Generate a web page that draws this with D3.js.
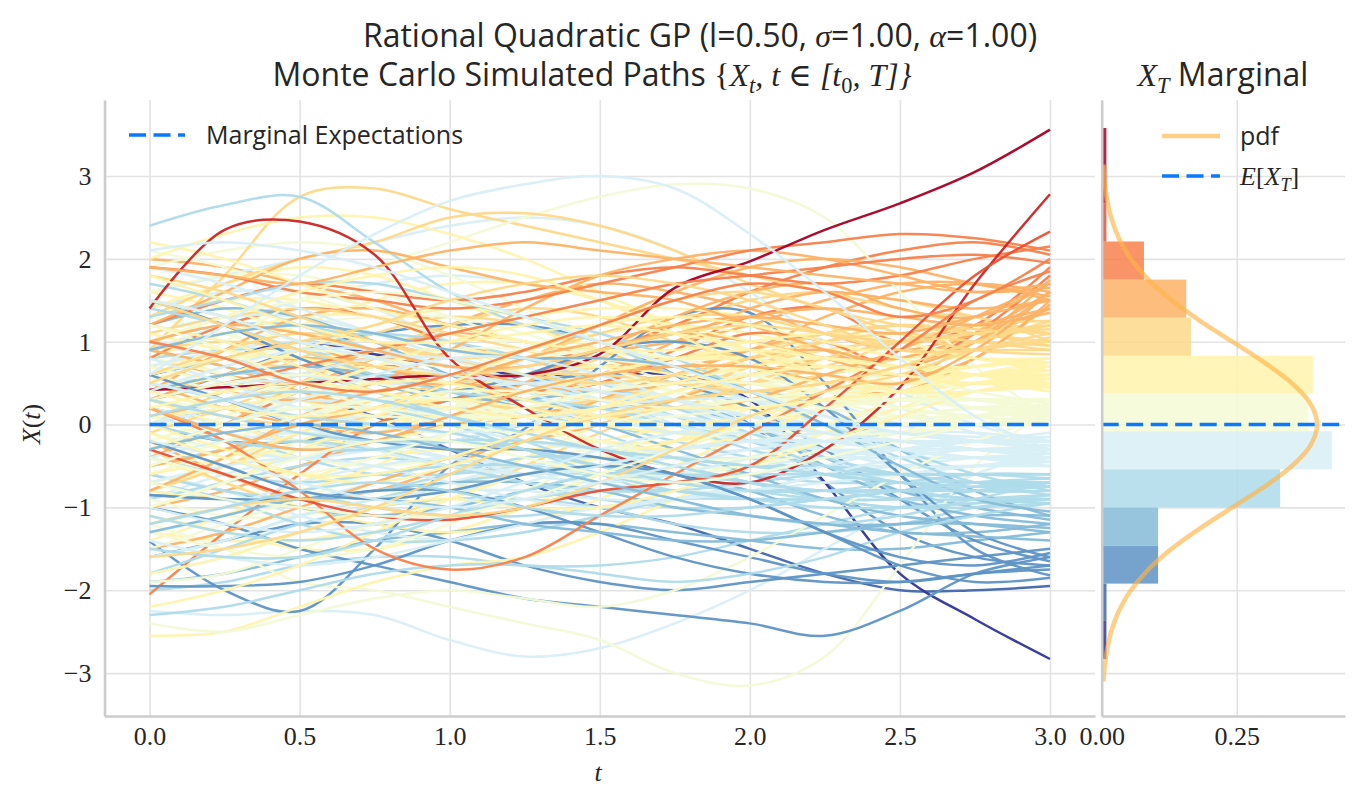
<!DOCTYPE html>
<html><head><meta charset="utf-8">
<script src="https://cdn.jsdelivr.net/npm/d3@7"></script>
<style>
body{margin:0;background:#fff;}
svg{display:block;}
</style></head>
<body>
<svg id="c" width="1363" height="806"></svg>
<script>
// ---------------- DATA ----------------
const tGrid = [0,0.25,0.5,0.75,1.0,1.25,1.5,1.75,2.0,2.25,2.5,2.75,3.0];
const xTicks = [0,0.5,1.0,1.5,2.0,2.5,3.0];
const yTicks = [-3,-2,-1,0,1,2,3];
const histXTicks = [0,0.25];
const meanValues = [0,0,0,0,0,0,0,0,0,0,0,0,0];
// histogram of X_T (edges and counts)
const histEdges = [-2.83,-2.37,-1.92,-1.46,-1.00,-0.54,-0.08,0.38,0.83,1.29,1.75,2.21,2.67,3.12,3.58];
const histCounts = [1,1,12,12,38,49,44,44,19,18,9,1,1,1];
// theoretical marginal pdf of X_T
const pdfY = [-3.1,-3.0,-2.75,-2.5,-2.25,-2.0,-1.75,-1.5,-1.25,-1.0,-0.75,-0.5,-0.25,0,0.25,0.5,0.75,1.0,1.25,1.5,1.75,2.0,2.25,2.5,2.75,3.0,3.14];
const pdfV = [0.0033,0.0044,0.0091,0.0175,0.0317,0.0540,0.0863,0.1295,0.1827,0.2420,0.3011,0.3521,0.3867,0.3989,0.3867,0.3521,0.3011,0.2420,0.1827,0.1295,0.0863,0.0540,0.0317,0.0175,0.0091,0.0044,0.0029];

// simulated paths, values at tGrid (grouped loosely by final level)
const pathsTop = [
[0.42,0.45,0.5,0.55,0.6,0.6,0.85,1.65,1.97,2.35,2.67,3.05,3.56],
[1.40,2.35,2.45,2.05,0.8,0.2,-0.3,-0.6,-0.7,-0.3,0.45,1.70,2.78],
[-0.3,-0.6,-0.9,-1.1,-1.15,-1.0,-0.8,-0.7,-0.5,0.2,1.0,1.8,2.33]
];
const pathsOrangeRed = [
[1.9,1.8,1.6,1.5,1.4,1.5,1.7,1.9,2.1,2.2,2.3,2.25,2.1],
[0.3,0.5,0.7,0.9,1.1,1.3,1.5,1.7,1.8,1.9,2.0,2.05,1.95],
[0.2,-0.2,-0.8,-1.5,-1.75,-1.6,-1.1,-0.6,-0.1,0.4,0.9,1.5,1.85],
[1.0,0.8,0.5,0.4,0.6,0.9,1.2,1.5,1.7,1.6,1.3,1.5,2.0],
[-0.3,0.0,0.4,0.7,0.6,0.4,0.5,0.9,1.3,1.4,1.0,1.2,1.9],
[0.8,1.2,1.4,1.3,1.0,0.8,0.9,1.2,1.6,1.9,2.1,2.2,2.05],
[-2.05,-1.3,-0.6,0.0,0.3,0.4,0.5,0.8,1.1,1.0,0.7,1.1,1.8],
[0.5,0.2,0.0,-0.1,0.1,0.5,0.9,1.1,1.0,0.8,0.6,1.0,1.75],
[1.2,1.5,1.7,1.6,1.5,1.6,1.8,1.9,1.8,1.7,1.8,2.0,2.15]
];
const pathsOrange = [
[1.2,1.6,2.0,2.1,1.9,1.7,1.6,1.5,1.2,0.9,0.6,0.8,1.5],
[0.1,0.3,0.6,0.8,0.7,0.5,0.4,0.5,0.8,0.9,0.7,1.0,1.6],
[-0.5,-0.3,0.0,0.2,0.5,0.8,1.0,1.2,1.3,1.2,1.1,1.3,1.5],
[1.9,1.8,1.7,1.9,2.1,2.2,2.1,2.0,1.9,1.8,1.7,1.6,1.7],
[0.8,0.6,0.5,0.8,1.2,1.5,1.7,1.6,1.4,1.1,0.9,1.1,1.4],
[-1.0,-0.8,-0.5,-0.2,0.0,0.1,0.3,0.6,0.9,1.1,1.0,1.2,1.4],
[0.4,0.9,1.3,1.4,1.2,1.0,0.8,0.7,0.9,1.3,1.6,1.7,1.6],
[-0.2,-0.6,-0.9,-0.8,-0.5,-0.1,0.3,0.6,0.7,0.5,0.4,0.8,1.45],
[1.5,1.3,1.0,0.7,0.6,0.8,1.2,1.6,1.9,2.0,1.9,1.7,1.55],
[0.6,0.4,0.3,0.5,0.9,1.4,1.8,2.0,2.1,2.0,1.8,1.6,1.65],
[-0.8,-0.4,0.1,0.4,0.5,0.4,0.3,0.2,0.3,0.6,0.9,1.3,1.7],
[1.0,1.2,1.1,0.9,0.7,0.7,0.9,1.1,1.3,1.4,1.3,1.2,1.35],
[0.2,-0.1,-0.3,-0.2,0.1,0.4,0.6,0.7,0.7,0.6,0.5,0.9,1.6],
[2.0,1.9,1.7,1.5,1.2,1.0,0.9,1.0,1.2,1.5,1.7,1.7,1.5],
[-0.4,0.0,0.5,0.9,1.1,1.0,0.8,0.6,0.4,0.3,0.5,1.0,1.4],
[0.9,0.7,0.4,0.2,0.1,0.3,0.6,1.0,1.4,1.6,1.5,1.4,1.5],
[-1.5,-1.3,-1.0,-0.7,-0.4,-0.2,0.0,0.3,0.6,0.8,0.8,1.1,1.6],
[0.3,0.6,0.8,0.7,0.5,0.6,0.9,1.3,1.6,1.7,1.4,1.3,1.7]
];
const pathsLightOrange = [
[0.9,1.8,2.75,2.85,2.6,2.4,2.2,2.0,1.8,1.6,1.4,1.2,1.1],
[1.3,1.7,2.0,2.2,2.5,2.55,2.4,2.1,1.7,1.4,1.2,1.1,1.0],
[-0.5,-0.3,0.0,0.3,0.5,0.6,0.6,0.5,0.4,0.5,0.7,0.9,1.0],
[0.6,0.9,1.1,1.0,0.8,0.6,0.5,0.6,0.8,1.0,1.1,1.0,0.9],
[1.5,1.2,0.9,0.7,0.6,0.7,0.9,1.1,1.2,1.1,1.0,1.1,1.2],
[-1.2,-1.0,-0.9,-1.0,-1.1,-1.0,-0.7,-0.3,0.1,0.4,0.6,0.9,1.1],
[0.0,0.4,0.8,1.1,1.3,1.2,0.9,0.6,0.5,0.6,0.8,1.0,1.2],
[0.7,0.5,0.3,0.2,0.3,0.5,0.8,1.2,1.5,1.6,1.5,1.3,1.1],
[-0.3,-0.7,-1.0,-1.1,-0.9,-0.5,-0.1,0.3,0.7,0.9,1.0,1.0,0.95],
[1.1,1.3,1.4,1.3,1.1,0.9,0.7,0.5,0.5,0.7,1.0,1.2,1.25],
[0.3,0.1,0.0,0.1,0.4,0.8,1.1,1.3,1.3,1.1,0.9,0.9,0.9],
[-0.8,-0.5,-0.1,0.2,0.3,0.2,0.1,0.2,0.5,0.8,1.0,1.1,1.15],
[1.8,1.6,1.3,1.0,0.8,0.9,1.2,1.5,1.6,1.4,1.1,0.9,0.85],
[0.5,0.8,1.0,1.2,1.5,1.7,1.8,1.7,1.5,1.2,0.9,0.9,1.05],
[-1.6,-1.5,-1.3,-1.0,-0.6,-0.2,0.1,0.3,0.4,0.5,0.7,1.0,1.2],
[0.2,0.0,-0.2,-0.1,0.2,0.5,0.7,0.8,0.9,1.1,1.3,1.3,1.0],
[1.0,0.8,0.7,0.9,1.2,1.4,1.3,1.0,0.8,0.7,0.8,1.0,1.25],
[-0.1,0.2,0.5,0.6,0.5,0.3,0.2,0.4,0.7,1.0,1.2,1.1,0.95],
[0.9,1.0,0.9,0.6,0.3,0.2,0.3,0.5,0.8,1.1,1.2,1.15,1.1]
];
const pathsPaleYellow = [
[-2.55,-2.5,-2.2,-1.9,-1.7,-1.6,-1.3,-0.9,-0.5,-0.1,0.2,0.5,0.6],
[2.0,2.3,2.5,2.5,2.3,2.0,1.6,1.2,0.9,0.7,0.6,0.6,0.7],
[0.4,0.6,0.9,1.2,1.4,1.3,1.0,0.7,0.5,0.4,0.5,0.6,0.55],
[-0.6,-0.4,-0.1,0.2,0.3,0.2,0.0,-0.1,0.0,0.3,0.5,0.6,0.5],
[1.2,1.0,0.7,0.4,0.3,0.4,0.6,0.8,0.9,0.8,0.7,0.7,0.8],
[0.0,-0.3,-0.6,-0.7,-0.5,-0.2,0.2,0.5,0.7,0.8,0.7,0.6,0.45],
[-1.3,-1.4,-1.4,-1.2,-0.8,-0.4,0.0,0.3,0.4,0.3,0.3,0.4,0.6],
[0.8,1.1,1.3,1.3,1.0,0.6,0.2,-0.1,-0.2,0.0,0.3,0.6,0.75],
[1.6,1.4,1.1,0.9,0.8,0.9,1.1,1.2,1.1,0.9,0.7,0.6,0.65],
[-0.2,0.1,0.5,0.8,0.9,0.8,0.5,0.3,0.2,0.3,0.5,0.7,0.8],
[0.5,0.3,0.0,-0.3,-0.5,-0.6,-0.5,-0.3,0.0,0.3,0.5,0.5,0.4],
[-1.0,-0.7,-0.3,0.0,0.1,0.0,-0.2,-0.3,-0.1,0.2,0.5,0.6,0.7],
[1.0,1.3,1.6,1.8,1.9,1.8,1.5,1.1,0.7,0.5,0.4,0.5,0.6],
[-1.8,-1.6,-1.3,-1.0,-0.9,-1.0,-1.0,-0.8,-0.5,-0.2,0.1,0.4,0.5],
[0.2,0.4,0.5,0.4,0.2,0.1,0.2,0.4,0.6,0.7,0.6,0.5,0.6],
[0.9,0.6,0.3,0.1,0.0,0.1,0.3,0.6,0.9,1.1,1.0,0.8,0.7],
[-0.4,-0.7,-1.0,-1.2,-1.3,-1.2,-0.9,-0.5,-0.1,0.2,0.4,0.5,0.55],
[1.4,1.7,1.9,1.8,1.5,1.2,0.9,0.8,0.8,0.9,0.9,0.8,0.75],
[-0.8,-0.9,-0.8,-0.5,-0.1,0.3,0.6,0.8,0.8,0.6,0.4,0.4,0.5],
[0.6,0.8,0.8,0.6,0.3,0.0,-0.2,-0.2,0.0,0.2,0.4,0.5,0.45],
[-2.2,-2.0,-1.7,-1.3,-0.9,-0.6,-0.4,-0.2,0.0,0.2,0.4,0.6,0.7],
[0.1,0.2,0.4,0.7,1.0,1.2,1.3,1.2,1.0,0.8,0.7,0.7,0.8],
[1.8,1.5,1.2,1.0,1.0,1.1,1.2,1.1,0.9,0.6,0.4,0.4,0.5],
[-0.1,-0.4,-0.6,-0.6,-0.4,-0.1,0.1,0.2,0.2,0.3,0.4,0.6,0.65],
[0.7,0.9,1.2,1.5,1.7,1.7,1.5,1.2,0.9,0.7,0.6,0.6,0.6],
[-1.4,-1.1,-0.7,-0.4,-0.3,-0.3,-0.2,0.0,0.3,0.6,0.8,0.8,0.7],
[0.3,0.0,-0.2,-0.2,0.0,0.3,0.5,0.5,0.4,0.3,0.3,0.4,0.45],
[1.1,0.9,0.8,0.9,1.1,1.3,1.4,1.4,1.3,1.1,0.9,0.8,0.8],
[-0.7,-0.5,-0.2,0.1,0.4,0.6,0.7,0.6,0.4,0.3,0.4,0.5,0.55],
[2.2,2.0,1.7,1.4,1.2,1.0,0.9,0.9,1.0,1.1,1.0,0.8,0.65],
[-0.3,0.0,0.3,0.5,0.5,0.3,0.1,0.0,0.1,0.3,0.5,0.7,0.75],
[0.4,0.2,0.1,0.2,0.5,0.9,1.2,1.3,1.2,1.0,0.8,0.6,0.5],
[-1.1,-1.3,-1.5,-1.5,-1.3,-1.0,-0.6,-0.2,0.2,0.5,0.6,0.6,0.6],
[1.3,1.5,1.5,1.3,1.0,0.8,0.7,0.8,1.0,1.1,1.0,0.8,0.7],
[0.0,0.3,0.6,0.7,0.6,0.5,0.5,0.6,0.7,0.6,0.5,0.5,0.5]
];
const pathsPaleGreen = [
[-1.2,-1.5,-1.9,-2.0,-2.2,-2.4,-2.6,-3.0,-3.15,-2.8,-1.7,-0.5,0.2],
[0.5,1.0,1.5,1.9,2.2,2.5,2.75,2.9,2.85,2.5,1.6,0.7,0.1],
[-2.4,-2.5,-2.3,-2.1,-2.0,-2.1,-2.2,-2.0,-1.6,-1.1,-0.6,-0.2,0.1],
[1.5,1.3,1.0,0.8,0.7,0.8,0.9,0.8,0.6,0.4,0.2,0.1,0.2],
[0.3,0.5,0.6,0.5,0.3,0.1,0.0,0.1,0.2,0.3,0.3,0.2,0.1],
[-0.5,-0.2,0.1,0.3,0.3,0.1,-0.2,-0.4,-0.4,-0.2,0.0,0.1,0.2],
[0.9,1.2,1.4,1.4,1.2,0.9,0.6,0.4,0.3,0.3,0.3,0.2,0.0],
[-0.9,-1.1,-1.1,-0.9,-0.6,-0.4,-0.3,-0.3,-0.2,0.0,0.2,0.3,0.3],
[0.1,-0.2,-0.4,-0.5,-0.4,-0.2,0.1,0.4,0.6,0.6,0.4,0.2,0.05],
[1.9,2.1,2.2,2.1,1.8,1.4,1.0,0.7,0.5,0.4,0.3,0.2,0.15],
[-1.5,-1.2,-0.9,-0.6,-0.5,-0.5,-0.6,-0.6,-0.5,-0.3,-0.1,0.1,0.25],
[0.6,0.4,0.2,0.1,0.1,0.2,0.4,0.6,0.7,0.6,0.4,0.2,0.1],
[-0.2,0.1,0.4,0.7,0.9,0.9,0.7,0.4,0.1,-0.1,-0.1,0.0,0.1],
[1.2,0.9,0.5,0.2,0.0,-0.1,0.0,0.2,0.3,0.3,0.2,0.1,0.0],
[-0.7,-0.9,-1.0,-1.1,-1.1,-0.9,-0.6,-0.3,0.0,0.2,0.3,0.3,0.3],
[0.4,0.7,1.0,1.1,0.9,0.6,0.3,0.1,0.0,0.0,0.1,0.2,0.2],
[-0.1,-0.3,-0.3,-0.1,0.2,0.5,0.6,0.5,0.3,0.1,0.0,0.0,0.1],
[2.1,1.9,1.6,1.3,1.1,1.0,1.0,1.0,0.9,0.7,0.5,0.3,0.2],
[-1.9,-1.8,-1.5,-1.2,-0.9,-0.6,-0.4,-0.3,-0.2,-0.1,0.0,0.1,0.2],
[0.7,0.5,0.4,0.4,0.6,0.8,0.9,0.8,0.6,0.4,0.2,0.1,0.0],
[0.0,0.3,0.5,0.5,0.3,0.0,-0.3,-0.5,-0.5,-0.3,-0.1,0.1,0.25],
[1.0,1.3,1.5,1.6,1.5,1.3,1.0,0.7,0.4,0.2,0.1,0.1,0.15],
[-0.4,-0.6,-0.6,-0.4,-0.1,0.2,0.4,0.5,0.5,0.4,0.3,0.3,0.3],
[-1.0,-0.7,-0.4,-0.2,-0.2,-0.4,-0.6,-0.7,-0.6,-0.4,-0.2,0.0,0.15],
[0.8,0.6,0.3,0.0,-0.2,-0.2,0.0,0.3,0.5,0.5,0.4,0.3,0.3],
[0.2,0.0,-0.1,0.0,0.2,0.4,0.5,0.4,0.2,0.0,-0.1,0.0,0.05],
[1.6,1.8,1.8,1.6,1.3,1.0,0.8,0.7,0.6,0.5,0.4,0.3,0.3],
[-0.6,-0.3,0.0,0.2,0.2,0.0,-0.2,-0.2,0.0,0.2,0.3,0.3,0.2],
[0.5,0.8,0.9,0.8,0.5,0.2,0.0,-0.1,-0.1,0.0,0.1,0.2,0.2],
[-1.3,-1.5,-1.6,-1.5,-1.2,-0.8,-0.4,-0.1,0.0,0.0,0.0,0.1,0.15],
[0.3,0.2,0.2,0.3,0.4,0.4,0.3,0.2,0.3,0.4,0.4,0.3,0.2],
[-0.3,0.0,0.2,0.2,0.1,0.1,0.2,0.4,0.6,0.7,0.6,0.4,0.25],
[1.3,1.1,0.8,0.6,0.5,0.5,0.6,0.6,0.5,0.3,0.1,0.0,0.0],
[-0.8,-0.5,-0.3,-0.3,-0.5,-0.7,-0.8,-0.7,-0.4,-0.1,0.1,0.2,0.3],
[0.6,0.9,1.2,1.3,1.3,1.1,0.8,0.5,0.3,0.1,0.0,0.0,0.1]
];
const pathsPaleBlue = [
[0.6,1.2,1.8,2.3,2.7,2.9,3.0,2.85,2.3,1.6,0.8,0.1,-0.3],
[-2.25,-2.3,-2.25,-2.3,-2.6,-2.8,-2.7,-2.4,-2.0,-1.5,-1.0,-0.6,-0.3],
[1.6,1.8,2.0,2.2,2.4,2.5,2.4,2.1,1.6,1.0,0.4,0.0,-0.2],
[0.2,0.0,-0.2,-0.3,-0.2,0.0,0.1,0.0,-0.2,-0.3,-0.3,-0.3,-0.25],
[-0.5,-0.3,0.0,0.2,0.1,-0.1,-0.3,-0.4,-0.4,-0.4,-0.4,-0.4,-0.4],
[1.0,0.8,0.6,0.5,0.5,0.6,0.6,0.5,0.3,0.0,-0.2,-0.3,-0.35],
[-1.2,-1.0,-0.7,-0.5,-0.4,-0.5,-0.7,-0.8,-0.8,-0.6,-0.4,-0.3,-0.3],
[0.4,0.7,0.9,0.9,0.7,0.4,0.1,-0.1,-0.1,0.0,-0.1,-0.2,-0.2],
[-0.2,-0.5,-0.8,-0.9,-0.8,-0.6,-0.3,-0.1,0.0,-0.1,-0.3,-0.4,-0.45],
[1.3,1.1,0.8,0.5,0.3,0.2,0.3,0.5,0.6,0.5,0.2,-0.1,-0.3],
[-0.8,-0.9,-0.9,-0.7,-0.4,-0.1,0.1,0.1,-0.1,-0.3,-0.5,-0.5,-0.4],
[0.7,0.9,1.0,0.9,0.7,0.5,0.3,0.2,0.1,0.0,-0.1,-0.15,-0.15],
[-1.6,-1.4,-1.1,-0.9,-0.8,-0.8,-0.9,-0.9,-0.8,-0.6,-0.5,-0.4,-0.35],
[0.0,0.2,0.3,0.2,0.0,-0.3,-0.5,-0.6,-0.5,-0.4,-0.3,-0.3,-0.3],
[1.9,1.7,1.4,1.1,0.8,0.5,0.3,0.1,0.0,-0.1,-0.2,-0.3,-0.4],
[-0.4,-0.2,-0.1,-0.2,-0.4,-0.6,-0.7,-0.6,-0.4,-0.2,-0.1,-0.1,-0.2],
[0.5,0.3,0.0,-0.3,-0.5,-0.6,-0.5,-0.3,-0.2,-0.2,-0.3,-0.4,-0.5],
[-1.0,-1.2,-1.3,-1.2,-1.0,-0.7,-0.5,-0.3,-0.2,-0.2,-0.2,-0.3,-0.3],
[0.9,1.2,1.5,1.7,1.8,1.7,1.5,1.1,0.7,0.3,0.0,-0.2,-0.25],
[-0.1,-0.3,-0.4,-0.3,-0.1,0.2,0.3,0.3,0.1,-0.1,-0.3,-0.4,-0.35],
[1.4,1.6,1.6,1.4,1.0,0.7,0.4,0.2,0.0,-0.1,-0.2,-0.2,-0.15],
[-0.6,-0.8,-1.1,-1.3,-1.4,-1.3,-1.1,-0.8,-0.6,-0.5,-0.5,-0.5,-0.5],
[0.3,0.5,0.5,0.3,0.0,-0.2,-0.3,-0.3,-0.2,-0.1,-0.1,-0.2,-0.3],
[-1.4,-1.6,-1.7,-1.6,-1.4,-1.2,-1.0,-0.9,-0.8,-0.7,-0.6,-0.5,-0.45],
[0.8,0.5,0.2,0.0,-0.1,0.0,0.2,0.3,0.3,0.1,-0.1,-0.2,-0.2],
[-0.3,0.0,0.3,0.6,0.8,0.8,0.6,0.3,0.0,-0.2,-0.3,-0.3,-0.3],
[2.1,2.2,2.1,1.9,1.6,1.3,1.0,0.7,0.4,0.1,-0.1,-0.2,-0.2],
[-0.9,-0.6,-0.4,-0.3,-0.4,-0.5,-0.5,-0.4,-0.3,-0.3,-0.4,-0.4,-0.4],
[0.1,-0.1,-0.2,-0.1,0.1,0.3,0.4,0.3,0.1,-0.1,-0.2,-0.3,-0.35],
[1.1,1.3,1.3,1.1,0.8,0.5,0.2,0.0,-0.2,-0.3,-0.3,-0.2,-0.1],
[-1.8,-1.6,-1.3,-1.0,-0.7,-0.5,-0.4,-0.4,-0.5,-0.6,-0.6,-0.5,-0.4],
[0.6,0.4,0.3,0.3,0.4,0.5,0.5,0.3,0.0,-0.3,-0.5,-0.5,-0.45],
[-0.7,-0.5,-0.4,-0.5,-0.7,-0.9,-1.0,-0.9,-0.7,-0.5,-0.3,-0.2,-0.2],
[0.0,0.3,0.6,0.8,0.8,0.6,0.3,0.0,-0.2,-0.3,-0.3,-0.3,-0.3],
[1.5,1.3,1.0,0.8,0.6,0.5,0.4,0.3,0.1,-0.1,-0.2,-0.3,-0.35],
[-0.2,-0.4,-0.7,-0.9,-1.0,-0.9,-0.7,-0.5,-0.3,-0.2,-0.2,-0.3,-0.4],
[0.4,0.2,0.1,0.1,0.2,0.2,0.1,-0.1,-0.2,-0.2,-0.2,-0.2,-0.2],
[-1.3,-1.1,-0.8,-0.6,-0.5,-0.6,-0.7,-0.6,-0.4,-0.2,-0.2,-0.3,-0.3]
];
const pathsLightBlue = [
[2.4,2.65,2.75,2.2,1.6,1.2,1.0,0.6,0.3,0.0,-0.3,-0.6,-0.8],
[1.3,1.5,1.7,1.7,1.5,1.3,1.1,0.8,0.4,0.0,-0.4,-0.7,-0.85],
[-0.4,-0.6,-0.7,-0.6,-0.5,-0.5,-0.6,-0.8,-0.9,-0.9,-0.8,-0.7,-0.7],
[0.3,0.1,-0.1,-0.2,-0.2,-0.3,-0.5,-0.7,-0.8,-0.8,-0.8,-0.9,-0.9],
[-1.2,-1.0,-0.8,-0.7,-0.8,-1.0,-1.1,-1.1,-1.0,-0.9,-0.8,-0.7,-0.65],
[0.8,0.9,0.9,0.7,0.4,0.1,-0.2,-0.4,-0.5,-0.6,-0.7,-0.8,-0.8],
[-2.0,-1.9,-1.7,-1.6,-1.6,-1.7,-1.7,-1.6,-1.4,-1.2,-1.0,-0.9,-0.85],
[0.0,0.3,0.5,0.6,0.5,0.2,-0.1,-0.4,-0.6,-0.7,-0.7,-0.7,-0.75],
[-0.7,-0.9,-1.2,-1.4,-1.4,-1.3,-1.1,-0.9,-0.8,-0.8,-0.9,-0.9,-0.9],
[1.7,1.5,1.2,0.9,0.7,0.5,0.3,0.0,-0.3,-0.5,-0.6,-0.6,-0.6],
[-0.3,0.0,0.2,0.2,0.0,-0.3,-0.6,-0.9,-1.1,-1.2,-1.1,-0.9,-0.7],
[0.5,0.3,0.1,0.0,-0.1,-0.3,-0.5,-0.6,-0.6,-0.6,-0.6,-0.6,-0.6],
[-1.5,-1.6,-1.6,-1.4,-1.1,-0.8,-0.6,-0.6,-0.7,-0.8,-0.8,-0.8,-0.75],
[1.0,1.2,1.2,1.0,0.8,0.6,0.4,0.1,-0.2,-0.5,-0.8,-0.9,-0.95],
[-0.9,-0.7,-0.5,-0.4,-0.5,-0.7,-0.9,-1.0,-1.0,-0.9,-0.8,-0.7,-0.7],
[0.2,-0.1,-0.4,-0.6,-0.6,-0.5,-0.4,-0.5,-0.7,-0.9,-1.0,-0.95,-0.85],
[-1.8,-1.5,-1.2,-1.0,-0.9,-0.9,-1.0,-1.2,-1.3,-1.3,-1.2,-1.0,-0.9],
[0.6,0.8,1.0,1.1,1.0,0.8,0.5,0.2,-0.1,-0.4,-0.6,-0.7,-0.7],
[-0.5,-0.3,-0.2,-0.3,-0.5,-0.7,-0.8,-0.8,-0.7,-0.6,-0.6,-0.6,-0.65],
[1.4,1.2,0.9,0.6,0.4,0.3,0.2,0.0,-0.2,-0.5,-0.7,-0.8,-0.8],
[-1.1,-1.3,-1.4,-1.3,-1.1,-0.9,-0.8,-0.8,-0.9,-1.0,-1.0,-0.95,-0.9],
[0.1,0.3,0.4,0.3,0.1,-0.1,-0.3,-0.4,-0.5,-0.6,-0.7,-0.75,-0.75],
[-0.2,-0.5,-0.8,-1.0,-1.1,-1.1,-1.0,-0.9,-0.9,-0.9,-0.9,-0.8,-0.7],
[0.9,0.7,0.5,0.3,0.2,0.1,0.0,-0.2,-0.4,-0.6,-0.8,-0.9,-0.95],
[-1.6,-1.4,-1.1,-0.9,-0.7,-0.6,-0.6,-0.7,-0.8,-0.9,-0.9,-0.8,-0.7],
[0.4,0.6,0.6,0.4,0.1,-0.2,-0.5,-0.7,-0.8,-0.8,-0.7,-0.6,-0.6],
[-0.6,-0.8,-0.9,-0.8,-0.6,-0.4,-0.4,-0.5,-0.7,-0.9,-1.0,-1.0,-0.95],
[1.2,1.0,0.7,0.4,0.1,-0.1,-0.3,-0.4,-0.5,-0.5,-0.6,-0.7,-0.75],
[-2.3,-2.2,-2.0,-1.8,-1.7,-1.7,-1.8,-1.9,-1.8,-1.6,-1.3,-1.1,-0.95],
[0.0,-0.2,-0.3,-0.3,-0.2,-0.2,-0.3,-0.5,-0.7,-0.8,-0.8,-0.75,-0.7]
];
const pathsMidBlue = [
[1.5,1.2,0.8,0.5,0.3,0.3,0.4,0.3,0.0,-0.5,-0.9,-1.1,-1.2],
[-0.85,-0.9,-0.9,-0.8,-0.7,-0.7,-0.8,-1.0,-1.1,-1.2,-1.2,-1.1,-1.1],
[0.4,0.6,0.7,0.6,0.4,0.2,0.0,-0.3,-0.6,-0.9,-1.1,-1.2,-1.3],
[-1.3,-1.1,-0.9,-0.9,-1.0,-1.2,-1.3,-1.4,-1.4,-1.3,-1.2,-1.2,-1.25],
[0.9,1.1,1.2,1.1,0.9,0.8,0.8,0.7,0.4,0.0,-0.5,-0.9,-1.05],
[-0.3,-0.1,0.0,-0.1,-0.3,-0.5,-0.7,-0.9,-1.1,-1.2,-1.3,-1.35,-1.4],
[-1.9,-1.8,-1.6,-1.4,-1.3,-1.2,-1.2,-1.3,-1.4,-1.5,-1.5,-1.4,-1.3],
[0.2,0.0,-0.2,-0.3,-0.2,0.0,0.2,0.2,0.0,-0.4,-0.8,-1.0,-1.15],
[-0.6,-0.8,-1.0,-1.1,-1.0,-0.8,-0.6,-0.6,-0.8,-1.1,-1.3,-1.3,-1.2],
[1.2,1.4,1.3,1.0,0.6,0.3,0.2,0.3,0.4,0.2,-0.3,-0.8,-1.1]
];
const pathsBlue = [
[-1.41,-2.0,-2.25,-1.5,-0.5,-0.05,0.7,1.3,1.35,0.5,-0.6,-1.5,-1.82],
[-1.0,-1.2,-1.5,-1.7,-1.9,-2.1,-2.2,-2.3,-2.4,-2.55,-2.25,-1.8,-1.6],
[-1.95,-1.95,-1.9,-1.7,-1.4,-1.2,-1.2,-1.4,-1.6,-1.8,-1.9,-1.8,-1.7],
[1.5,1.2,0.8,0.5,0.4,0.6,0.9,1.0,0.8,0.2,-0.6,-1.3,-1.6],
[-0.85,-0.9,-0.9,-0.8,-0.8,-1.0,-1.3,-1.6,-1.8,-1.9,-1.9,-1.8,-1.75],
[0.6,0.3,0.0,-0.2,-0.3,-0.3,-0.4,-0.6,-0.9,-1.3,-1.6,-1.7,-1.55],
[-0.2,-0.5,-0.8,-0.9,-0.8,-0.6,-0.5,-0.6,-0.9,-1.3,-1.7,-1.9,-1.85],
[0.3,0.6,0.9,1.1,1.2,1.2,1.0,0.6,0.0,-0.7,-1.3,-1.6,-1.7],
[-1.6,-1.4,-1.2,-1.2,-1.4,-1.7,-1.9,-2.0,-1.9,-1.8,-1.7,-1.6,-1.5],
[0.0,-0.2,-0.2,0.0,0.3,0.5,0.6,0.5,0.2,-0.3,-0.9,-1.4,-1.65]
];
const pathsDeepBlue = [
[0.0,0.2,0.3,0.1,-0.3,-0.7,-1.0,-1.2,-1.5,-1.8,-2.0,-2.0,-1.95],
[0.6,0.8,1.0,0.85,0.7,0.6,0.6,0.6,0.3,-0.7,-1.8,-2.35,-2.83]
];

// labels
const legendMain = "Marginal Expectations";

// ---------------- DRAW ----------------
const svg = d3.select("#c");
const x = d3.scaleLinear([-0.15, 3.15], [104.5, 1095]);
const y = d3.scaleLinear([-3.518, 3.918], [716, 100]);
const xh = d3.scaleLinear([0, 0.4505], [1101.7, 1345]);

const rdylbu = ['#a50026','#d73027','#f46d43','#fdae61','#fee090','#ffffbf','#e0f3f8','#abd9e9','#74add1','#4575b4','#313695'].reverse();
const cmap = d3.scaleLinear().domain(d3.range(11).map(i => i/10)).range(rdylbu).interpolate(d3.interpolateRgb).clamp(true);
const nBins = histCounts.length;
const binColor = i => cmap(i/(nBins-1));
const binOf = v => {
  for (let i = 0; i < nBins; i++) if (v <= histEdges[i+1]) return i;
  return nBins-1;
};

const gridColor = "#e3e3e3", spineColor = "#cccccc";
const serif = "'Liberation Serif','DejaVu Serif',serif";
const sans = "'Open Sans',Lato,sans-serif";

// main grid
const gx = svg.append("g").attr("transform","translate(0,716)")
  .call(d3.axisBottom(x).tickValues(xTicks).tickSize(-616).tickFormat(""));
gx.select(".domain").remove();
gx.selectAll("line").attr("stroke", gridColor).attr("stroke-width", 1.6);
const gy = svg.append("g").attr("transform","translate(104.5,0)")
  .call(d3.axisLeft(y).tickValues(yTicks).tickSize(-990.5).tickFormat(""));
gy.select(".domain").remove();
gy.selectAll("line").attr("stroke", gridColor).attr("stroke-width", 1.6);
// hist grid
const hgx = svg.append("g").attr("transform","translate(0,716)")
  .call(d3.axisBottom(xh).tickValues(histXTicks).tickSize(-616).tickFormat(""));
hgx.select(".domain").remove();
hgx.selectAll("line").attr("stroke", gridColor).attr("stroke-width", 1.6);
const hgy = svg.append("g").attr("transform","translate(1101.7,0)")
  .call(d3.axisLeft(y).tickValues(yTicks).tickSize(-243.3).tickFormat(""));
hgy.select(".domain").remove();
hgy.selectAll("line").attr("stroke", gridColor).attr("stroke-width", 1.6);

// paths
const groups = [pathsDeepBlue, pathsBlue, pathsMidBlue, pathsLightBlue, pathsPaleBlue, pathsPaleGreen, pathsPaleYellow, pathsLightOrange, pathsOrange, pathsOrangeRed, pathsTop];
const all = [].concat(...groups);
const N = all.length;
const order = d3.range(N).map(k => all[(k*61) % N]);
const line = d3.line().x((d,i) => x(tGrid[i])).y(d => y(d)).curve(d3.curveCatmullRom.alpha(0.5));
svg.append("clipPath").attr("id","mainclip").append("rect")
  .attr("x",104.5).attr("y",100).attr("width",990.5).attr("height",616);
svg.append("g").attr("clip-path","url(#mainclip)")
  .selectAll("path").data(order).join("path")
  .attr("d", line)
  .attr("fill","none")
  .attr("stroke", d => binColor(binOf(d[d.length-1])))
  .attr("stroke-opacity", 0.95)
  .attr("stroke-width", 2.5);

// marginal expectation line
const blue = "#0a78ff";
svg.append("path").datum(meanValues)
  .attr("d", d3.line().x((d,i)=>x(tGrid[i])).y(d=>y(d)))
  .attr("fill","none").attr("stroke",blue).attr("stroke-width",3.6)
  .attr("stroke-dasharray","17,7.5");

// histogram bars
const total = d3.sum(histCounts);
const bins = histCounts.map((c,i) => ({i, lo: histEdges[i], hi: histEdges[i+1], dens: c/(total*(histEdges[i+1]-histEdges[i]))}));
svg.append("g").selectAll("rect").data(bins).join("rect")
  .attr("x", xh(0))
  .attr("y", d => y(d.hi))
  .attr("width", d => xh(d.dens) - xh(0))
  .attr("height", d => y(d.lo) - y(d.hi))
  .attr("fill", d => binColor(d.i))
  .attr("fill-opacity", 0.85);
// pdf
const pdfColor = "#ffb347";
svg.append("path").datum(pdfY.map((v,i)=>[pdfV[i], v]))
  .attr("d", d3.line().x(d=>xh(d[0])).y(d=>y(d[1])).curve(d3.curveCatmullRom.alpha(0.5)))
  .attr("fill","none").attr("stroke",pdfColor).attr("stroke-opacity",0.65).attr("stroke-width",4.5);
// E[X_T]
svg.append("line").attr("x1",xh(0)).attr("x2",1345).attr("y1",y(meanValues[meanValues.length-1])).attr("y2",y(meanValues[meanValues.length-1]))
  .attr("stroke",blue).attr("stroke-width",3.6).attr("stroke-dasharray","17,7.5");

// axes (spines + tick labels)
function styleAxis(g){
  g.select(".domain").attr("stroke",spineColor).attr("stroke-width",2.6);
  g.selectAll(".tick line").remove();
  g.selectAll(".tick text").attr("font-family",serif).attr("font-size",26).attr("fill","#262626");
}
const ax = svg.append("g").attr("transform","translate(0,716)")
  .call(d3.axisBottom(x).tickValues(xTicks).tickFormat(d3.format(".1f")).tickSizeOuter(0).tickSize(0).tickPadding(11));
styleAxis(ax);
ax.selectAll(".tick text").attr("dy","0.71em");
const ay = svg.append("g").attr("transform","translate(104.5,0)")
  .call(d3.axisLeft(y).tickValues(yTicks).tickFormat(d3.format("d")).tickSizeOuter(0).tickSize(0).tickPadding(13));
styleAxis(ay);
const ahx = svg.append("g").attr("transform","translate(0,716)")
  .call(d3.axisBottom(xh).tickValues(histXTicks).tickFormat(d3.format(".2f")).tickSizeOuter(0).tickSize(0).tickPadding(11));
styleAxis(ahx);
const ahy = svg.append("g").attr("transform","translate(1101.7,0)")
  .call(d3.axisLeft(y).tickValues(yTicks).tickFormat("").tickSizeOuter(0).tickSize(0));
styleAxis(ahy);

// text helpers
function rich(sel, parts, size){
  parts.forEach(p => {
    const t = sel.append("tspan").text(p.t);
    if (p.math) t.attr("font-family", serif).attr("font-style", p.up ? "normal" : "italic");
    if (p.sub) t.attr("font-size", size*0.7).attr("dy", size*0.22);
    if (p.unsub) t.attr("dy", -size*0.22);
  });
}
// titles
const tfs = 32;
const t1 = svg.append("text").attr("x",700).attr("y",47).attr("text-anchor","middle")
  .attr("font-family",sans).attr("font-size",tfs).attr("fill","#262626");
rich(t1, [{t:"Rational Quadratic GP (l=0.50, "},{t:"σ",math:true},{t:"=1.00, "},{t:"α",math:true},{t:"=1.00)"}], tfs);
const t2 = svg.append("text").attr("x",592).attr("y",86).attr("text-anchor","middle")
  .attr("font-family",sans).attr("font-size",tfs).attr("fill","#262626");
rich(t2, [{t:"Monte Carlo Simulated Paths "},{t:"{",math:true,up:true},{t:"X",math:true},{t:"t",math:true,sub:true},{t:", t ∈ [t",math:true,unsub:true},{t:"0",math:true,up:true,sub:true},{t:", T]}",math:true,unsub:true}], tfs);
const t3 = svg.append("text").attr("x",1223).attr("y",86).attr("text-anchor","middle")
  .attr("font-family",sans).attr("font-size",tfs).attr("fill","#262626");
rich(t3, [{t:"X",math:true},{t:"T",math:true,sub:true},{t:" Marginal",unsub:true}], tfs);

// axis labels
svg.append("text").attr("x",598).attr("y",781).attr("text-anchor","middle")
  .attr("font-family",serif).attr("font-style","italic").attr("font-size",26).attr("fill","#262626").text("t");
const yl = svg.append("text").attr("transform","translate(40,424) rotate(-90)").attr("text-anchor","middle")
  .attr("font-family",serif).attr("font-size",26).attr("fill","#262626");
rich(yl, [{t:"X",math:true},{t:"(",math:true,up:true},{t:"t",math:true},{t:")",math:true,up:true}], 26);

// legends
const lfs = 25;
svg.append("line").attr("x1",129).attr("x2",185).attr("y1",135).attr("y2",135)
  .attr("stroke",blue).attr("stroke-width",3.6).attr("stroke-dasharray","17,7.5");
svg.append("text").attr("x",206).attr("y",135).attr("dy","0.35em").attr("font-family",sans).attr("font-size",lfs).attr("fill","#262626").text(legendMain);

svg.append("line").attr("x1",1162).attr("x2",1220).attr("y1",136).attr("y2",136)
  .attr("stroke",pdfColor).attr("stroke-opacity",0.65).attr("stroke-width",4.5);
svg.append("text").attr("x",1240).attr("y",136).attr("dy","0.35em").attr("font-family",sans).attr("font-size",lfs).attr("fill","#262626").text("pdf");
svg.append("line").attr("x1",1162).attr("x2",1220).attr("y1",176).attr("y2",176)
  .attr("stroke",blue).attr("stroke-width",3.6).attr("stroke-dasharray","17,7.5");
const le = svg.append("text").attr("x",1240).attr("y",176).attr("dy","0.35em").attr("font-family",serif).attr("font-size",lfs+1).attr("fill","#262626");
rich(le, [{t:"E",math:true},{t:"[",math:true,up:true},{t:"X",math:true},{t:"T",math:true,sub:true},{t:"]",math:true,up:true,unsub:true}], lfs+1);
</script>
</body></html>
